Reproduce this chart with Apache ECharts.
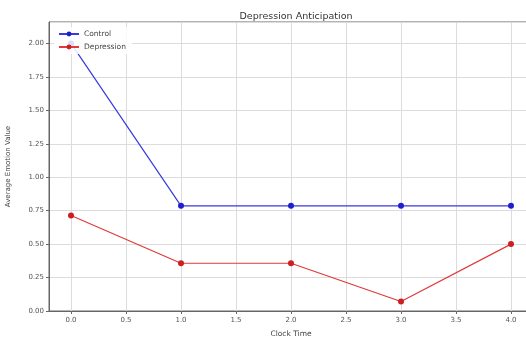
<!DOCTYPE html>
<html>
    <head>
        <meta charset="utf-8">
        <title>Depression Anticipation</title>
        <script src="https://cdn.jsdelivr.net/npm/echarts@6/dist/echarts.min.js"></script>
    </head>
    <body style="margin:0;">
        <div id="main" style="width:526px; height:338px;"></div>
        <script type="text/javascript">
            // clock time points and the two groups
            var times = [0, 1, 2, 3, 4]
            var control = [2.0, 0.786, 0.786, 0.786, 0.786]
            var depression = [0.714, 0.357, 0.357, 0.071, 0.5]
            var xTicks = [0, 0.5, 1, 1.5, 2, 2.5, 3, 3.5, 4]

            var pairs = function(ys) {
                var out = []
                for (var i = 0; i < times.length; i++) {
                    out.push([times[i], ys[i]])
                }
                return out
            }

            var font = 'DejaVu Sans'
            var myChart = echarts.init(document.querySelector('#main'))
            var option = {
                animation: false,
                textStyle: {fontFamily: font},
                title: {
                    text: 'Depression Anticipation',
                    left: 291,
                    textAlign: 'center',
                    top: 7,
                    textStyle: {fontFamily: font, fontSize: 9.5, fontWeight: 'normal', color: '#333'}
                },
                legend: {
                    orient: 'vertical',
                    left: 54,
                    top: 27,
                    itemGap: 5,
                    itemWidth: 20,
                    itemHeight: 6,
                    padding: [3, 6, 3, 4],
                    backgroundColor: 'rgba(255,255,255,0.85)',
                    textStyle: {fontFamily: font, fontSize: 7.5, color: '#444'},
                    data: ['Control', 'Depression']
                },
                grid: {
                    left: 49,
                    top: 22,
                    bottom: 27,
                    right: -7,
                    outerBoundsMode: 'none',
                    show: true,
                    borderColor: '#666',
                    borderWidth: 1
                },
                xAxis: {
                    type: 'value',
                    min: -0.2,
                    max: 4.2,
                    name: 'Clock Time',
                    nameLocation: 'middle',
                    nameGap: 19,
                    nameTextStyle: {fontFamily: font, fontSize: 7.5, color: '#444'},
                    axisLine: {show: true, onZero: false, lineStyle: {color: '#666'}},
                    axisTick: {show: true, length: 3, customValues: xTicks, lineStyle: {color: '#666'}},
                    axisLabel: {
                        customValues: xTicks,
                        fontSize: 7,
                        color: '#555',
                        margin: 6,
                        formatter: function(v) { return v.toFixed(1) }
                    },
                    splitLine: {show: true, lineStyle: {color: '#dcdcdc'}}
                },
                yAxis: {
                    type: 'value',
                    min: 0,
                    max: 2.16,
                    interval: 0.25,
                    name: 'Average Emotion Value',
                    nameLocation: 'middle',
                    nameGap: 37,
                    nameTextStyle: {fontFamily: font, fontSize: 7, color: '#444'},
                    axisLine: {show: true, onZero: false, lineStyle: {color: '#666'}},
                    axisTick: {show: true, length: 3, lineStyle: {color: '#666'}},
                    axisLabel: {
                        fontSize: 7,
                        color: '#555',
                        margin: 5,
                        showMaxLabel: false,
                        formatter: function(v) { return v.toFixed(2) }
                    },
                    splitLine: {show: true, lineStyle: {color: '#dcdcdc'}}
                },
                series: [
                    {
                        name: 'Control',
                        type: 'line',
                        data: pairs(control),
                        symbol: 'circle',
                        symbolSize: 6,
                        itemStyle: {color: '#1f1fcc'},
                        lineStyle: {color: '#3a3ae0', width: 1.2}
                    },
                    {
                        name: 'Depression',
                        type: 'line',
                        data: pairs(depression),
                        symbol: 'circle',
                        symbolSize: 6,
                        itemStyle: {color: '#cc1f1f'},
                        lineStyle: {color: '#e03a3a', width: 1.2}
                    }
                ]
            }
            myChart.setOption(option)
        </script>
    </body>
</html>
